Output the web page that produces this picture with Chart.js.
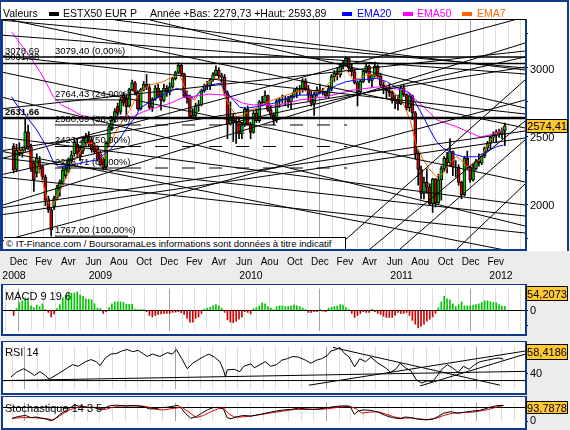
<!DOCTYPE html>
<html>
<head>
<meta charset="utf-8">
<script src="https://cdn.jsdelivr.net/npm/chart.js@4.4.1/dist/chart.umd.min.js"></script>
<style>
  body { margin:0; width:570px; height:430px; background:#ececec; position:relative; overflow:hidden;
         font-family:"Liberation Sans", Arial, sans-serif; color:#000; }
  .box { position:absolute; box-sizing:border-box; }
  canvas { position:absolute; left:0; z-index:1; }
  .frame { position:absolute; box-sizing:border-box; z-index:2; }
  .txt { position:absolute; white-space:nowrap; line-height:1; z-index:3; }
  .sq { position:absolute; width:10px; height:4px; z-index:3; }
  .val { position:absolute; left:526px; width:42px; box-sizing:border-box; background:#ffc933; border:1px solid #000;
         font-size:11px; line-height:1; text-align:center; z-index:3; }
</style>
</head>
<body>
<!-- backgrounds -->
<div class="box" style="left:0;top:0;width:569px;height:251px;background:#fff;border-top:2px solid #123a8c;border-left:1px solid #123a8c;border-right:2px solid #123a8c;"></div>
<div class="box" style="left:3px;top:285px;width:522px;height:49px;background:#fff;"></div>
<div class="box" style="left:3px;top:342px;width:522px;height:51px;background:#fff;"></div>
<div class="box" style="left:3px;top:397px;width:522px;height:31px;background:#fff;"></div>

<canvas id="main" width="570" height="284" style="top:0"></canvas>
<canvas id="macd" width="570" height="60" style="top:280px"></canvas>
<canvas id="rsi" width="570" height="60" style="top:338px"></canvas>
<canvas id="stoch" width="570" height="36" style="top:394px"></canvas>

<!-- frames -->
<div class="frame" style="left:1px;top:19px;width:526px;height:232px;border-top:1px solid #000;border-left:2px solid #123a8c;border-right:2px solid #123a8c;border-bottom:2px solid #123a8c;"></div>
<div class="frame" style="left:1px;top:284px;width:526px;height:52px;border:2px solid #123a8c;border-top-width:1px;"></div>
<div class="frame" style="left:1px;top:341px;width:526px;height:54px;border:2px solid #123a8c;border-top-width:1px;"></div>
<div class="frame" style="left:1px;top:396px;width:526px;height:34px;border:2px solid #123a8c;border-top-width:1px;"></div>

<!-- title row -->
<div class="txt" style="left:3px;top:8px;font-size:10.5px;">Valeurs</div>
<div class="sq" style="left:49px;top:12px;background:#000;"></div>
<div class="txt" style="left:63px;top:8px;font-size:10.5px;">ESTX50 EUR P</div>
<div class="txt" style="left:150px;top:8px;font-size:10.5px;">Année +Bas: 2279,73 +Haut: 2593,89</div>
<div class="sq" style="left:342px;top:12px;background:#0000ff;"></div>
<div class="txt" style="left:357px;top:8px;font-size:10.5px;color:#0000ff;">EMA20</div>
<div class="sq" style="left:403px;top:12px;background:#ff00ff;"></div>
<div class="txt" style="left:417px;top:8px;font-size:10.5px;color:#ff00ff;">EMA50</div>
<div class="sq" style="left:462px;top:12px;background:#ff6600;"></div>
<div class="txt" style="left:477px;top:8px;font-size:10.5px;color:#ff6600;">EMA7</div>

<div class="txt" style="left:4px;top:237px;width:342px;height:12px;background:#fff;border-top:1px solid #000;border-right:1px solid #000;font-size:9.5px;padding:1px 0 0 2px;box-sizing:border-box;">© IT-Finance.com / BoursoramaLes informations sont données à titre indicatif</div>

<div class="txt" style="left:5px;top:291px;font-size:11px;">MACD 9 19 6</div>
<div class="txt" style="left:5px;top:347px;font-size:11px;">RSI 14</div>
<div class="txt" style="left:5px;top:403px;font-size:11px;">Stochastique 14 3 5</div>

<div class="val" id="vPrice" style="top:119px;height:14px;padding-top:1px;"></div>
<div class="val" id="vMacd" style="top:286px;height:15px;padding-top:2px;"></div>
<div class="val" id="vRsi" style="top:344px;height:16px;padding-top:2px;"></div>
<div class="val" id="vStoch" style="top:401px;height:13px;padding-top:1px;"></div>

<script>
// weekly candles, the first week starts on Monday 1 Dec 2008
var firstWeek = Date.UTC(2008, 11, 1);
var weekMs = 7 * 86400000;

var opens = [2427,2255,2400,2375,2405,2530,2420,2300,2230,2320, 2275,2200,2040,1960,1985,2046,2110,2160,2210,2240,
  2320,2370,2440,2400,2390,2450,2500,2470,2430,2420, 2370,2330,2275,2446,2560,2615,2715,2680,2800,2780,
  2720,2840,2890,2820,2700,2840,2880,2855,2710,2770, 2850,2790,2760,2850,2820,2860,2920,2965,3017,2955,
  2791,2776,2634,2651,2722,2730,2830,2870,2868,2910, 2950,2982,2942,2930,2816,2587,2643,2596,2610,2515,
  2587,2695,2583,2527,2667,2613,2750,2742,2795,2691, 2654,2617,2757,2766,2768,2772,2752,2790,2822,2847,
  2844,2904,2846,2800,2739,2805,2838,2827,2823,2793, 2847,2935,2959,2949,3014,3029,3068,2996,2970,2891,
  2822,2900,2974,3010,2906,2945,3011,2936,2873,2843, 2832,2818,2758,2766,2735,2853,2803,2708,2794,2669,
  2372,2255,2079,2160,2126,2002,2184,2012,2180,2262, 2336,2305,2386,2271,2273,2160,2068,2339,2274,2178,
  2260,2316,2302,2352,2411,2450,2490,2510,2530,2515, 2540];
var highs = [2445,2440,2450,2420,2624,2580,2440,2320,2370,2350, 2290,2215,2060,1980,2060,2140,2180,2270,2290,2340,
  2390,2470,2480,2430,2490,2520,2532,2490,2450,2430, 2390,2345,2460,2580,2640,2700,2740,2780,2820,2800,
  2850,2910,2900,2830,2850,2900,2950,2880,2780,2870, 2880,2830,2880,2870,2890,2930,2975,3037,3025,2960,
  2830,2800,2700,2740,2760,2840,2880,2900,2920,2965, 3014,3000,2960,2950,2830,2750,2660,2640,2640,2600,
  2710,2720,2600,2680,2700,2760,2790,2830,2800,2720, 2670,2770,2780,2800,2790,2790,2800,2840,2860,2870,
  2920,2920,2870,2830,2820,2860,2880,2850,2830,2870, 2950,2980,3000,3030,3050,3079,3070,3030,2990,2900,
  2910,2985,3030,3020,2950,3042,3020,2960,2900,2860, 2880,2830,2800,2800,2870,2880,2810,2810,2800,2680,
  2400,2280,2200,2260,2150,2190,2190,2220,2280,2350, 2380,2480,2390,2320,2290,2170,2350,2390,2280,2290,
  2330,2370,2360,2420,2460,2500,2530,2545,2550,2560, 2594];
var lows = [2230,2240,2355,2345,2390,2400,2240,2095,2200,2230, 2180,1990,1940,1767,1960,2030,2060,2140,2190,2230,
  2300,2350,2340,2320,2370,2430,2420,2380,2370,2320, 2280,2251,2260,2430,2540,2600,2650,2660,2720,2617,
  2710,2830,2800,2690,2690,2830,2840,2700,2680,2760, 2780,2690,2750,2790,2800,2850,2910,2955,2940,2780,
  2740,2629,2630,2640,2680,2720,2820,2840,2840,2900, 2940,2920,2880,2800,2480,2580,2460,2446,2480,2480,
  2570,2580,2480,2520,2600,2600,2720,2730,2680,2640, 2580,2600,2710,2740,2720,2710,2700,2780,2780,2800,
  2820,2830,2760,2720,2650,2790,2810,2800,2780,2780, 2830,2900,2910,2930,2990,3010,2970,2940,2880,2720,
  2810,2890,2960,2890,2860,2930,2920,2860,2810,2780, 2790,2740,2700,2690,2730,2790,2690,2680,2620,2330,
  2140,2040,2040,2080,1990,1941,1980,2000,2030,2240, 2230,2280,2210,2200,2140,2040,2060,2260,2160,2170,
  2250,2280,2290,2340,2390,2400,2460,2450,2490,2480, 2430];
var closes = [2251,2395,2375,2400,2530,2420,2260,2180,2340,2260, 2200,2030,1960,1812,2046,2119,2165,2251,2260,2320,
  2360,2455,2380,2350,2470,2495,2440,2400,2385,2330, 2290,2265,2446,2568,2617,2678,2666,2763,2740,2715,
  2840,2890,2820,2700,2840,2880,2855,2710,2770,2850, 2790,2760,2850,2820,2860,2920,2965,3017,2955,2791,
  2776,2634,2651,2722,2730,2830,2870,2868,2910,2950, 2982,2942,2930,2816,2587,2643,2596,2610,2515,2587,
  2695,2583,2527,2667,2613,2750,2742,2795,2691,2654, 2617,2757,2766,2768,2772,2752,2790,2822,2847,2844,
  2904,2846,2800,2739,2805,2838,2827,2823,2793,2847, 2935,2959,2949,3014,3029,3068,2996,2970,2891,2822,
  2900,2974,3010,2906,2945,3011,2936,2873,2843,2832, 2818,2758,2766,2735,2853,2803,2708,2794,2669,2372,
  2255,2079,2160,2126,2002,2184,2012,2180,2262,2336, 2305,2386,2271,2273,2160,2068,2339,2274,2178,2260,
  2316,2302,2352,2411,2450,2490,2510,2530,2515,2540, 2574.41];

// moving averages (week position, value)
var ema20Weeks = [-0.2,1.6,5,8.5,11.9,14.2,16,18.9,22.3,25.8,29.2,31.5,33.8,37.3,40.8,42.5,44.2,47.7,52.3,56.9,
  58.7,60.4,62.7,65,68.4,71.9,74.2,76.5,78.8,81.1,84.6,87.5,90.4,95,99.6,104.2,108.8,112.3,115.7,119.2,
  122.7,126.1,129.6,132.5,135.3,137.7,140,142.3,144.6,146.9,149.2,151.5,153.8,156.1,158.4,160.7,163,165.3,167.7,170];
var ema20Values = [2788,2727,2641,2544,2422,2312,2275,2275,2295,2312,2324,2361,2398,2483,2593,2630,2703,2751,2800,2849,
  2837,2800,2776,2824,2873,2886,2824,2764,2710,2703,2715,2727,2739,2776,2800,2800,2824,2873,2898,2910,
  2915,2922,2898,2861,2837,2813,2727,2641,2544,2458,2410,2385,2361,2348,2348,2348,2373,2398,2422,2434];
var ema50Weeks = [-0.2,2.7,6.2,9.6,11.9,14.2,17.1,20.6,23.5,26.9,30.4,33.8,37.3,41.8,45.4,50,54.6,59.2,63.8,68.4,
  73,76.5,80,83.4,87.5,90.3,95,99.6,104.2,108.8,113.4,118,122.7,127.3,130.7,135.9,142.5,147,154,161.9,165.3,169.8];
var ema50Values = [3263,3179,3080,2971,2886,2788,2727,2690,2654,2637,2630,2634,2641,2641,2678,2710,2739,2783,2793,2807,
  2800,2776,2739,2727,2734,2720,2739,2764,2776,2788,2813,2837,2849,2861,2849,2837,2712,2617,2566,2493,2507,2544];
var ema7Weeks = [2,5.6,9,12.5,14.2,17.1,20,22.3,25.8,28.1,30.4,31.5,33.8,36.2,38.4,40.8,42.5,44.2,47.7,52.3,
  55.7,58,59.8,61.5,63.3,65,67.3,70.2,71.9,73.6,75.4,77.7,80,82.3,84.6,87.5,90.4,95,98.4,101.9,
  105.3,107.7,110,113.4,115.7,118,120.3,122.7,125,127.3,129.6,132.5,135.3,137.7,140,142.3,144.6,146.9,149.2,151.5,
  153.8,155.5,157.2,159.5,161.8,164.1,166.5,168.8,170.5];
var ema7Values = [2390,2376,2280,2010,1995,2129,2251,2348,2447,2447,2373,2324,2447,2544,2617,2690,2764,2824,2873,2898,
  2934,2947,2849,2776,2764,2837,2886,2922,2915,2788,2715,2641,2654,2690,2703,2739,2764,2800,2824,2837,
  2824,2837,2898,2959,2983,2910,2922,2947,2947,2922,2873,2813,2739,2617,2422,2324,2251,2202,2227,2300,
  2348,2324,2275,2300,2324,2422,2495,2531,2568];

// horizontal levels and Fibonacci retracement
var hLevels = [3078.69, 3031.38, 2631.66];
var fibLevels = [3079.40, 2764.43, 2580.69, 2423.20, 2265.71, 1767.00];
var fibNames = ['0,00%', '24,00%', '38,00%', '50,00%', '62,00%', '100,00%'];
var fibFrom = 14.8, fibTo = 40.1, fibDashTo = 115.9;
var fibDashed = [2580.69, 2423.20, 2265.71];

// trend lines drawn on the price chart: [week1, price1, week2, price2]
var trendLines = [
  // falling
  [-4.222,3349.2,177.47,2997.8], [35.58,3349.2,177.47,2983.2], [-4.222,3239.4,177.47,2953.9],
  [-4.222,3088.6,177.47,2661.1], [-4.222,3366.0,177.47,2558.6], [-4.222,2970.7,177.47,2163.3],
  [-4.222,2787.7,177.47,1841.1], [-4.222,2390.2,177.47,1636.2], [47.69,3349.2,177.47,2705.0],
  [-4.222,2492.7,177.47,1994.9], [-4.222,2339.0,177.47,1914.4], [-4.222,2199.9,177.47,1789.9],
  // rising
  [-4.222,2331.6,177.47,3371.2], [-4.222,2214.5,177.47,3078.3], [-4.222,1987.6,177.47,3180.8],
  [-4.222,2697.7,177.47,3122.2], [-4.222,2390.2,177.47,3005.1], [-4.222,1972.9,177.47,2536.6],
  [-4.222,1921.7,177.47,2485.4], [-4.222,1727.0,177.47,2763.6],
  // steep channel, 2011-2012
  [111.72,1672.8,177.47,2909.96], [123.83,1672.8,177.47,2609.8], [134.21,1672.8,177.47,2470.9],
  [153.94,1672.8,177.47,2148.6]
];

// MACD histogram, one bar per week
var macdValues = [-64,23,98,124,162,143,60,38,68,49, 87,11,-26,-83,-45,23,75,162,200,218,
  226,226,237,200,181,151,143,136,87,30, 23,-38,-15,38,87,113,113,113,105,79,
  79,79,19,11,11,11,-15,-64,-83,-64, -53,-45,-38,-38,-38,-26,-23,-15,-30,-53,
  -102,-151,-151,-102,-83,-38,19,30,41,60, 75,60,30,-26,-121,-151,-158,-139,-113,-83,
  -15,-26,-45,23,38,60,98,87,49,30, 11,49,60,60,49,49,60,68,60,49,
  30,11,-26,-26,-15,-15,15,-8,-15,30, 41,49,60,75,68,38,11,-38,-90,-64,
  -38,-15,-26,-26,15,-15,-38,-53,-75,-90, -90,-90,-64,-26,-38,-38,-26,-64,-128,-177,
  -226,-203,-177,-139,-113,-83,-38,38,113,181, 151,136,87,49,75,113,60,60,60,68,
  75,87,105,124,124,113,105,98,75,60, 54];
var macdLast = 54.2073;

// RSI 14
var rsiWeeks = [-0.4,1.4,4,5.8,7.7,9.6,11.5,12.8,15.9,19.1,20.9,22.8,25.4,27.2,29.1,30.4,32.3,34.2,36,37.9,
  39.8,41.7,43.6,45.5,46.7,48.6,51.1,53.7,55.5,56.8,58.7,60.6,62.5,65,66.9,68.1,70,71.9,73.2,73.8,
  74.4,76.9,78.8,80.1,82.6,83.8,85.7,87.6,89.5,91.4,93.3,95.2,97.1,99,101.5,103.4,105.3,107.1,109,110.3,
  112.2,113.4,114.7,116.6,118.5,120.3,122.3,124.1,126.6,129.2,131,132.9,134.2,136.1,138,139.9,141.7,143.6,145.5,146.8,
  148.7,150.6,152.4,154.3,156.2,158.1,160,161.9,164.4,166.9,168.5,170];
var rsiValues = [34.8,40.9,45.7,41.7,36.8,41.7,36.8,32,38.9,46.9,51,48.9,55,57.8,55,49.8,60.2,65.1,65.9,69.1,
  71.1,68.3,70,65.1,61.9,65.1,61.9,67.1,65.1,71.1,59,45.7,53,59,63.1,65.1,61.1,55,42.9,34.8,
  44.1,44.9,41.7,48.9,52.2,46.9,51,55,48.9,51,57,59,61.9,61.1,57,53,57,59,63.1,69.1,
  71.1,74,67.1,61.1,48.1,59,55,61.1,53,46.9,40.9,45.7,53,46.9,42.9,30.8,26.7,29.6,28.8,34.8,
  44.9,51,46.9,40.9,48.9,44.9,51,55,57,59,60,58.4186];
var rsiLines = [[-3.2,30,177.5,30],[-3.2,30,177.5,42.2],[102.7,23.9,177.5,69.1],[141.1,22.8,177.5,65],[111,73.9,168.8,23.9]];

// Stochastique 14 3 5 (%K black, %D red)
var stochKWeeks = [0,2.1,4.6,6.5,8.4,10.2,12.1,13.4,14.7,16.5,18.4,20.3,21.6,22.8,24.7,26.6,28.5,29.7,31.6,33.5,
  36,39.2,42.3,45.5,47.4,49.2,51.1,53.6,56.2,57.4,58.7,59.9,61.8,63.7,65.6,67.5,69.4,71.3,73.1,74.4,
  75.7,77.5,80.1,82.6,85.1,87.6,89.5,91.4,93.9,96.4,99,101.5,104,106.5,109,111.5,114,115.9,117.2,118.4,
  119.7,121.6,124.1,126.6,129.1,131.6,134.2,136,138,140.4,143,145.5,147.4,149.3,151.8,154.3,156.8,159.3,161.8,164.4,
  166.2,168.1,170];
var stochKValues = [17,27.7,34.3,21,25,17,11.8,1.3,11.8,40.9,60.7,83.2,96.4,91.1,87.2,80.5,83.2,70,73.9,91.1,
  96.4,91.1,93.8,87.2,73.9,73.9,80.5,83.2,91.1,93.8,73.9,47.5,17,27.7,47.5,67.3,80.5,83.2,73.9,21,
  14.4,25,34.3,30.3,38.2,47.5,54.1,60.7,67.3,70,77.9,73.9,71.3,73.9,80.5,87.2,91.1,91.1,80.5,40.9,
  60.7,67.3,64.7,54.1,34.3,21,14.4,25,21,11.8,7.8,11.8,27.7,47.5,56.7,47.5,54.1,60.7,64.7,77.9,
  87.2,93.8,93.7878];
var stochDWeeks = [0,3.3,7.1,10.9,14,15.9,17.8,20.3,22.8,25.3,27.9,30.4,32.3,34.1,37.3,41.1,44.8,47.4,49.9,52.4,
  56.2,58.7,61.2,63.7,66.2,68.7,71.3,73.1,75,76.9,79.4,82.6,86.4,90.1,93.9,97.7,101.5,105.2,109,112.8,
  116.5,119.1,121,123.5,126.6,129.1,132.3,134.8,138,140.4,143.6,146.8,149.3,152.4,155.6,159.3,161.8,164.9,168.1,170];
var stochDValues = [17,21,21,17,7.8,25,47.5,70,83.2,85.8,83.2,72.6,70,80.5,91.1,91.1,91.1,83.2,70,67.3,
  77.9,83.2,54.1,21,34.3,56.7,73.9,80.5,43.5,25,25,30.3,40.9,51.5,60.7,70,70,70,73.9,83.2,
  91.1,73.9,47.5,54.1,56.7,43.5,25,17,19.7,14.4,9.1,17,34.3,47.5,51.5,54.1,60.7,70,87.2,93.8];

var monthNames = ['Jan','Fev','Mar','Avr','Mai','Jun','Jul','Aou','Sep','Oct','Nov','Dec'];
var priceTicks = [1750, 2000, 2250, 2500, 2750, 3000, 3250];
var priceLabels = [2000, 2500, 3000];

// ---- scale ranges (weeks since 1 Dec 2008) ----
var xMin = -3.184, xMax = 177.47;
Chart.defaults.font.family = '"Liberation Sans", Arial, sans-serif';
Chart.defaults.color = '#000';

function fmt(v, d) { return v.toFixed(d === undefined ? 2 : d).replace('.', ','); }
function pts(ws, vs) { return ws.map(function (w, i) { return { x: w, y: vs[i] }; }); }
function wk(t) { return (t - firstWeek) / weekMs; }

var gridTicks = [], monthLabels = [], yearLabels = [];
for (var y = 2008; y <= 2012; y++) {
  for (var m = 0; m < 12; m++) {
    var a = wk(Date.UTC(y, m, 1)), b = wk(Date.UTC(y, m + 1, 1));
    if (a >= xMin && a <= xMax) gridTicks.push({ value: a, year: m === 0 });
    var mid = (a + b) / 2;
    if (m % 2 === 1 && mid > xMin + 1 && mid < xMax - 4) monthLabels.push({ value: mid, label: monthNames[m] });
  }
  var ya = Math.max(wk(Date.UTC(y, 0, 1)), xMin), yb = Math.min(wk(Date.UTC(y + 1, 0, 1)), xMax);
  yearLabels.push({ value: (ya + yb) / 2, label: String(y) });
}

function xScales() {
  return {
    x: { type: 'linear', min: xMin, max: xMax, offset: false, position: 'bottom',
      afterBuildTicks: function (sc) { sc.ticks = gridTicks.map(function (t) { return { value: t.value, year: t.year }; }); },
      afterFit: function (sc) { sc.height = 0; },
      ticks: { display: false }, border: { display: false },
      grid: { drawTicks: false, lineWidth: 1,
        color: function (c) { return c.tick && c.tick.year ? '#a3a3a3' : '#dddddd'; } } }
  };
}

function rightAxis(min, max, ticks, labels, lineAt, shift) {
  return { position: 'right', min: min, max: max,
    afterBuildTicks: function (sc) { sc.ticks = ticks.map(function (v) { return { value: v }; }); },
    afterFit: function (sc) { sc.width = 45; },
    border: { display: false },
    ticks: { padding: 2, labelOffset: shift || 0, font: { size: 11 },
      callback: function (v) { return labels.indexOf(v) >= 0 ? String(v) : ''; } },
    grid: { drawTicks: true, tickLength: 3, tickColor: '#000',
      color: function (c) { return c.tick && lineAt.indexOf(c.tick.value) >= 0 ? '#000' : 'rgba(0,0,0,0)'; } } };
}

function lineSet(data, color, width, order, dash) {
  return { type: 'line', data: data, borderColor: color, borderWidth: width, pointRadius: 0,
    fill: false, tension: 0, clip: 0, order: order, borderDash: dash || [] };
}

// ---- main price chart ----
var idx = closes.map(function (c, i) { return i; });
var datasets = [
  { type: 'bar', data: idx.map(function (i) { return { x: i + 0.5, y: [lows[i], highs[i]] }; }),
    backgroundColor: '#000', barThickness: 1, grouped: false, order: 4, clip: 0 },
  { type: 'bar', data: idx.map(function (i) { return { x: i + 0.5, y: [opens[i], closes[i]] }; }),
    backgroundColor: idx.map(function (i) { return closes[i] >= opens[i] ? '#00c000' : '#d40000'; }),
    borderColor: '#000', borderWidth: 1, borderSkipped: false, barThickness: 3, grouped: false, order: 3, clip: 0 },
  lineSet(pts(ema50Weeks, ema50Values), '#ff00ff', 1, 2),
  lineSet(pts(ema20Weeks, ema20Values), '#0000ff', 1, 2),
  lineSet(pts(ema7Weeks, ema7Values), '#ff6600', 1, 2)
];
trendLines.forEach(function (l) {
  datasets.push(lineSet([{ x: l[0], y: l[1] }, { x: l[2], y: l[3] }], '#000', 1, 1));
});
hLevels.forEach(function (v, i) {
  datasets.push(lineSet([{ x: xMin, y: v }, { x: xMax, y: v }], '#000', i === 2 ? 2.5 : 1.5, 1));
});
fibLevels.forEach(function (v) {
  datasets.push(lineSet([{ x: fibFrom, y: v }, { x: fibTo, y: v }], '#000', 1, 1));
});
fibDashed.forEach(function (v) {
  datasets.push(lineSet([{ x: fibTo, y: v }, { x: fibDashTo, y: v }], '#000', 1, 1, [13, 14]));
});

var levelLabels = {
  id: 'levelLabels',
  afterDatasetsDraw: function (chart) {
    var ctx = chart.ctx, xs = chart.scales.x, ys = chart.scales.y;
    ctx.save();
    ctx.fillStyle = '#000';
    ctx.textBaseline = 'bottom';
    ctx.font = '9.5px "Liberation Sans"';
    fibLevels.forEach(function (v, i) {
      ctx.fillText(fmt(v) + ' (' + fibNames[i] + ')', xs.getPixelForValue(fibFrom), ys.getPixelForValue(v) - 1);
    });
    hLevels.forEach(function (v, i) {
      ctx.font = (i === 2 ? 'bold ' : '') + '9.5px "Liberation Sans"';
      ctx.fillText(fmt(v), xs.left + 2, ys.getPixelForValue(v) - 1);
    });
    ctx.restore();
  }
};

// month and year names under the price chart, placed with the x scale
var timeLabels = {
  id: 'timeLabels',
  afterDraw: function (chart) {
    var ctx = chart.ctx, xs = chart.scales.x;
    ctx.save();
    ctx.fillStyle = '#000';
    ctx.textAlign = 'center';
    ctx.textBaseline = 'middle';
    ctx.font = '10px "Liberation Sans"';
    monthLabels.forEach(function (t) { ctx.fillText(t.label, xs.getPixelForValue(t.value), 262); });
    ctx.font = '10.5px "Liberation Sans"';
    yearLabels.forEach(function (t) { ctx.fillText(t.label, xs.getPixelForValue(t.value), 276); });
    ctx.restore();
  }
};

var mainScales = xScales();
mainScales.y = rightAxis(1672.8, 3349.2, priceTicks, priceLabels, [], 2);
new Chart(document.getElementById('main'), {
  type: 'bar',
  data: { datasets: datasets },
  options: { responsive: false, animation: false, devicePixelRatio: 1, events: [],
    layout: { padding: { left: 3, top: 20, right: 0, bottom: 35 } },
    plugins: { legend: { display: false }, tooltip: { enabled: false } },
    scales: mainScales },
  plugins: [levelLabels, timeLabels]
});

// ---- MACD ----
var macdScales = xScales();
macdScales.y = rightAxis(-271, 282.5, [-200, 0, 200], [0], [0], 1);
new Chart(document.getElementById('macd'), {
  type: 'bar',
  data: { datasets: [{ data: macdValues.map(function (v, i) { return { x: i + 0.5, y: v }; }),
    backgroundColor: macdValues.map(function (v) { return v >= 0 ? '#00c800' : '#d00000'; }),
    barThickness: 1, grouped: false, clip: 0 }] },
  options: { responsive: false, animation: false, devicePixelRatio: 1, events: [],
    layout: { padding: { left: 3, top: 5, right: 0, bottom: 6 } },
    plugins: { legend: { display: false }, tooltip: { enabled: false } },
    scales: macdScales }
});

// ---- RSI ----
var rsiScales = xScales();
rsiScales.y = rightAxis(18.3, 75, [40, 60], [40], [], 1);
var rsiSets = [lineSet(pts(rsiWeeks, rsiValues), '#000', 1, 1)];
rsiLines.forEach(function (l) {
  rsiSets.push(lineSet([{ x: l[0], y: l[1] }, { x: l[2], y: l[3] }], '#000', 1, 2));
});
new Chart(document.getElementById('rsi'), {
  type: 'line',
  data: { datasets: rsiSets },
  options: { responsive: false, animation: false, devicePixelRatio: 1, events: [],
    layout: { padding: { left: 3, top: 4, right: 0, bottom: 5 } },
    plugins: { legend: { display: false }, tooltip: { enabled: false } },
    scales: rsiScales }
});

// ---- Stochastique ----
var stScales = xScales();
stScales.y = rightAxis(-1.5, 111.3, [0, 20, 80, 100], [0], [20, 80]);
new Chart(document.getElementById('stoch'), {
  type: 'line',
  data: { datasets: [
    lineSet(pts(stochKWeeks, stochKValues), '#000', 1, 1),
    lineSet(pts(stochDWeeks, stochDValues), '#e00000', 1, 2)
  ] },
  options: { responsive: false, animation: false, devicePixelRatio: 1, events: [],
    layout: { padding: { left: 3, top: 3, right: 0, bottom: 2 } },
    plugins: { legend: { display: false }, tooltip: { enabled: false } },
    scales: stScales }
});

document.getElementById('vPrice').textContent = fmt(closes[closes.length - 1]);
document.getElementById('vMacd').textContent = fmt(macdLast, 4);
document.getElementById('vRsi').textContent = fmt(rsiValues[rsiValues.length - 1], 4);
document.getElementById('vStoch').textContent = fmt(stochKValues[stochKValues.length - 1], 4);
</script>
</body>
</html>
